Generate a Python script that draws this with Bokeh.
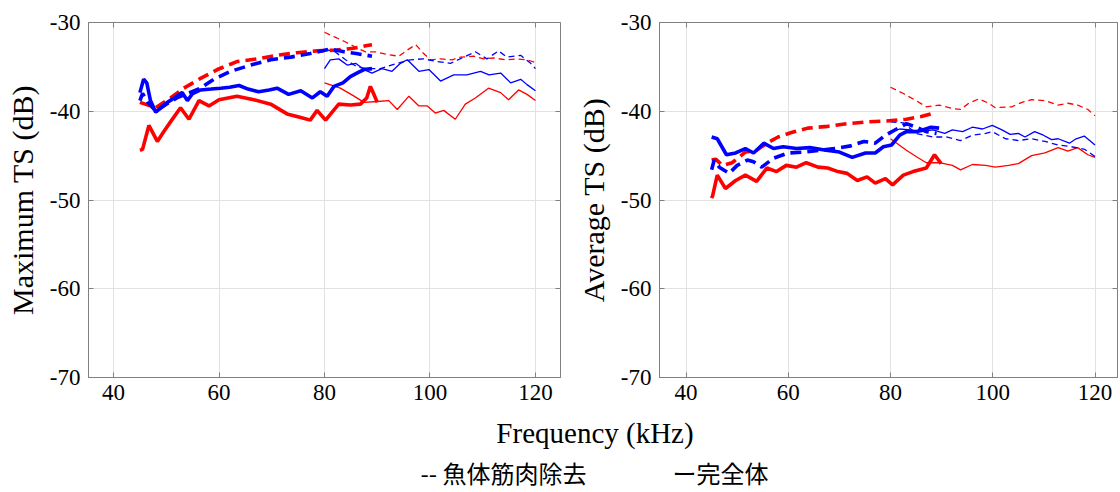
from bokeh.plotting import figure
from bokeh.layouts import column, row
from bokeh.models import FixedTicker, Range1d, LinearAxis
from bokeh.core.properties import value
from bokeh.embed import file_html
from bokeh.resources import INLINE

# ---------------- data ----------------
x_ticks = [40, 60, 80, 100, 120]
x_tick_labels = ["40", "60", "80", "100", "120"]
y_ticks = [-70, -60, -50, -40, -30]
y_tick_labels = ["-70", "-60", "-50", "-40", "-30"]

# Left panel: Maximum TS
max_red_full_f = [45, 45.5, 46.7, 48.3, 49.5, 50.8, 52.7, 54.3, 56.2, 58.1, 60, 63.4, 66.6, 69.8, 72.9, 75.5, 77.3, 78.6, 80.2, 82.7, 84.9, 86.8, 88.0, 88.7, 89.3, 90]
max_red_full_v = [-44.4, -44.3, -41.6, -43.4, -42.3, -41.2, -39.6, -40.9, -38.8, -39.4, -38.7, -38.3, -38.7, -39.2, -40.3, -40.7, -41.0, -39.9, -41.0, -39.2, -39.3, -39.2, -38.5, -37.2, -38.0, -39.0]
max_red_cut_f = [45, 46, 48, 50.8, 53.3, 56.5, 59.7, 63.4, 67.2, 71, 74.8, 78.6, 82.4, 85.5, 88.1, 89]
max_red_cut_v = [-39.0, -39.2, -39.6, -38.5, -37.4, -36.3, -35.3, -34.4, -34.1, -33.7, -33.4, -33.2, -33.1, -32.9, -32.6, -32.5]
max_blue_full_f = [45, 45.7, 46.3, 47, 48, 49, 50.2, 51.5, 53, 54, 55, 56.5, 58.5, 60.3, 62, 63.8, 65.5, 67.5, 69.5, 71, 73.2, 75.5, 77.7, 79.2, 80.5, 81.8, 83.5, 84.9, 86.5, 87.5, 89]
max_blue_full_v = [-37.9, -36.4, -36.8, -38.8, -40.1, -39.6, -39.0, -38.5, -37.9, -38.8, -38.0, -37.6, -37.5, -37.4, -37.3, -37.1, -37.5, -37.8, -37.6, -37.4, -38.1, -37.7, -38.5, -37.8, -38.3, -37.2, -36.8, -36.1, -35.6, -35.3, -35.2]
max_blue_cut_f = [45, 45.5, 46.5, 48, 50, 52, 54, 56.5, 59, 62.2, 66, 69.8, 73.6, 77.3, 81.1, 83.7, 86, 88.1, 89]
max_blue_cut_v = [-38.8, -38.0, -39.0, -40.0, -39.2, -38.5, -38.0, -37.4, -36.4, -35.5, -34.8, -34.2, -33.9, -33.5, -33.0, -33.3, -33.5, -33.7, -33.8]
max_red_full_hi_f = [80, 83, 85.6, 87.5, 90, 92.2, 93.8, 96, 97.9, 99.5, 101, 102.6, 104.8, 106.7, 108.6, 111.1, 113.4, 114.9, 116.8, 118.4, 120]
max_red_full_hi_v = [-36.8, -37.4, -38.3, -39.0, -38.9, -38.8, -39.8, -38.3, -39.4, -39.4, -40.2, -39.9, -40.9, -39.2, -38.5, -37.4, -37.9, -38.7, -37.6, -38.1, -38.8]
max_red_cut_hi_f = [80, 81.8, 84, 85.9, 87.8, 89.7, 91.9, 94.1, 95.7, 97.3, 98.8, 100.1, 102, 104.2, 105.8, 108.3, 110.2, 112.1, 114.3, 116.5, 118.4, 120]
max_red_cut_hi_v = [-31.1, -31.6, -32.2, -32.8, -33.3, -33.3, -33.6, -33.8, -33.1, -32.5, -33.5, -34.2, -34.1, -34.2, -33.9, -33.8, -34.1, -34.0, -34.2, -34.1, -34.2, -34.5]
max_blue_full_hi_f = [80, 81.1, 82.7, 84.3, 85.9, 87.5, 89, 90.9, 92.8, 94.4, 95.7, 97.9, 99.8, 102, 104.5, 107, 109.6, 111.2, 113.4, 115.3, 117.2, 118.4, 120]
max_blue_full_hi_v = [-35.2, -34.2, -34.1, -34.8, -34.6, -35.3, -35.7, -35.2, -35.5, -34.6, -34.2, -35.5, -35.3, -36.6, -35.9, -35.9, -35.5, -35.9, -35.7, -36.8, -36.4, -37.0, -37.7]
max_blue_cut_hi_f = [80, 82, 84, 86.2, 88, 90.6, 93.8, 96.3, 98.8, 101.3, 103.9, 106.4, 108.6, 110.8, 113, 114.6, 117.2, 119.1, 120]
max_blue_cut_hi_v = [-33.0, -33.3, -34.2, -35.0, -35.2, -35.2, -34.6, -34.2, -34.1, -34.4, -34.6, -33.9, -33.3, -34.1, -33.2, -33.9, -33.7, -34.6, -35.2]

# Right panel: Average TS
avg_red_full_f = [45, 45.2, 46.1, 47.7, 49.7, 51.6, 53.8, 55.8, 57.7, 59.6, 61.6, 63.5, 65.8, 67.7, 69.7, 71.5, 73.5, 75.4, 77, 79, 80.4, 82.5, 84.4, 87, 88.6, 89.9]
avg_red_full_v = [-49.8, -49.5, -47.2, -48.7, -47.8, -47.2, -47.9, -46.4, -46.8, -46.1, -46.3, -45.8, -46.3, -46.4, -46.8, -47.0, -47.8, -47.4, -48.1, -47.6, -48.3, -47.2, -46.8, -46.4, -44.9, -45.9]
avg_red_cut_f = [45, 45.8, 47.1, 49, 51.6, 53.8, 55.8, 58, 60.6, 63.8, 67.7, 71.5, 75.4, 79.2, 83.1, 86, 88.5]
avg_red_cut_v = [-45.5, -45.4, -46.1, -45.8, -44.6, -44.4, -43.6, -42.9, -42.4, -41.9, -41.7, -41.4, -41.2, -41.1, -40.9, -40.6, -40.2]
avg_blue_full_f = [45, 46.1, 47.9, 49.7, 51.6, 53.2, 55.2, 57.1, 59, 61.6, 64.2, 67.4, 70, 72.5, 75.1, 77, 78.6, 80.2, 81.8, 83.1, 85, 86.3, 87.9, 89.5]
avg_blue_full_v = [-42.9, -43.1, -44.9, -44.7, -44.2, -44.7, -43.6, -44.2, -44.0, -44.2, -44.1, -44.4, -44.6, -45.2, -44.7, -44.7, -44.0, -43.8, -42.7, -42.3, -42.3, -42.1, -41.8, -41.9]
avg_blue_cut_f = [45, 45.5, 46.5, 48.4, 50, 52, 53.2, 54.8, 57.1, 60, 63, 66.4, 69, 72.2, 74.8, 77, 79, 81.2, 83.1, 85, 87, 89]
avg_blue_cut_v = [-46.6, -45.5, -46.3, -47.0, -46.1, -45.5, -45.7, -46.3, -45.3, -44.7, -44.6, -44.4, -44.2, -43.9, -43.4, -43.6, -42.7, -42.0, -41.4, -41.8, -42.3, -42.5]
avg_red_full_hi_f = [80, 83.1, 85, 87, 89.5, 92.1, 93.7, 96, 98.6, 100.5, 103.1, 105, 107.6, 110.2, 112.8, 114.7, 116.6, 118.6, 120]
avg_red_full_hi_v = [-43.1, -44.4, -45.1, -45.8, -45.8, -46.1, -46.6, -46.0, -46.1, -46.3, -46.1, -45.9, -45.0, -44.7, -44.1, -44.5, -44.1, -44.9, -45.2]
avg_red_cut_hi_f = [80, 82.5, 85, 87, 89.5, 92.1, 93.7, 95.3, 97.3, 99.2, 100.5, 103.7, 105.7, 107.6, 110.2, 112.8, 114.7, 116.6, 118.6, 120]
avg_red_cut_hi_v = [-37.3, -38.0, -38.8, -39.5, -39.3, -39.7, -39.8, -39.1, -38.6, -39.1, -39.6, -39.5, -39.0, -38.7, -38.8, -39.3, -39.1, -39.3, -39.8, -40.5]
avg_blue_full_hi_f = [80, 81.8, 83.8, 86, 88.3, 90.6, 92.1, 94.1, 96, 98, 99.9, 101.8, 103.4, 105, 106.3, 108.2, 109.9, 111.5, 112.8, 115, 116.3, 117.9, 120]
avg_blue_full_hi_v = [-42.3, -42.0, -42.1, -42.3, -42.1, -42.5, -42.1, -42.3, -41.8, -42.0, -41.6, -42.1, -42.6, -42.5, -42.9, -42.3, -42.7, -43.2, -43.1, -43.6, -43.1, -42.8, -43.8]
avg_blue_cut_hi_f = [80, 82.5, 85, 88.3, 90.9, 93.7, 96, 98.6, 99.9, 102.5, 105, 107.6, 110.2, 112.8, 115.4, 118, 120]
avg_blue_cut_hi_v = [-41.2, -41.3, -42.5, -42.9, -42.9, -43.3, -42.7, -42.5, -42.3, -43.1, -43.3, -43.1, -43.4, -43.8, -44.0, -44.3, -45.1]

x_label = "Frequency (kHz)"
legend_cut = "-- 魚体筋肉除去"
legend_full = "ー完全体"

# ---------------- style ----------------
RED = "#ff0000"
BLUE = "#0000ff"
GRAY = "#808080"
SERIF = "Liberation Serif"


def style(p, ylabel):
    p.xaxis.ticker = FixedTicker(ticks=x_ticks)
    p.yaxis.ticker = FixedTicker(ticks=y_ticks)
    p.xaxis.major_label_overrides = dict(zip(x_ticks, x_tick_labels))
    p.yaxis.major_label_overrides = dict(zip(y_ticks, y_tick_labels))
    p.grid.grid_line_color = "#e2e2e2"
    p.grid.grid_line_width = 1
    p.outline_line_color = GRAY
    p.outline_line_width = 1
    p.axis.axis_line_color = GRAY
    p.axis.major_tick_line_color = GRAY
    p.axis.major_tick_in = 5
    p.axis.major_tick_out = 0
    p.axis.minor_tick_line_color = None
    p.axis.major_label_text_font = SERIF
    p.axis.major_label_text_font_size = "23px"
    p.axis.major_label_text_color = "#000000"
    p.xaxis.major_label_standoff = 7
    p.yaxis.major_label_standoff = 8
    p.yaxis.axis_label = ylabel
    p.yaxis.axis_label_text_font = SERIF
    p.yaxis.axis_label_text_font_size = "30px"
    p.yaxis.axis_label_text_font_style = "normal"
    p.yaxis.axis_label_text_color = "#000000"
    p.yaxis.axis_label_standoff = 8
    p.background_fill_color = "white"
    p.border_fill_color = "white"
    # box ticks on the top and right sides (no labels)
    top = LinearAxis(ticker=FixedTicker(ticks=x_ticks), axis_line_color=None,
                     major_tick_line_color=GRAY, major_tick_in=5, major_tick_out=0,
                     minor_tick_line_color=None, major_label_text_color=None,
                     major_label_text_font_size="1px", major_label_standoff=0)
    right = LinearAxis(ticker=FixedTicker(ticks=y_ticks), axis_line_color=None,
                       major_tick_line_color=GRAY, major_tick_in=5, major_tick_out=0,
                       minor_tick_line_color=None, major_label_text_color=None,
                       major_label_text_font_size="1px", major_label_standoff=0)
    p.add_layout(top, "above")
    p.add_layout(right, "right")


def draw(p, series):
    for f, v, color, width, dash in series:
        p.line(f, v, line_color=color, line_width=width, line_dash=dash)


THIN = 1.3
THICK = 3.6
THIN_DASH = "6 4"
THICK_DASH = "11 6"

p1 = figure(width=573, height=412, x_range=Range1d(35.25, 124.75), y_range=Range1d(-70, -30),
            min_border_left=88, min_border_right=13, min_border_top=15, min_border_bottom=35,
            toolbar_location=None, output_backend="svg")
style(p1, "Maximum TS (dB)")
draw(p1, [
    (max_red_full_hi_f, max_red_full_hi_v, RED, THIN, "solid"),
    (max_red_cut_hi_f, max_red_cut_hi_v, RED, THIN, THIN_DASH),
    (max_blue_full_hi_f, max_blue_full_hi_v, BLUE, THIN, "solid"),
    (max_blue_cut_hi_f, max_blue_cut_hi_v, BLUE, THIN, THIN_DASH),
    (max_red_full_f, max_red_full_v, RED, THICK, "solid"),
    (max_red_cut_f, max_red_cut_v, RED, THICK, THICK_DASH),
    (max_blue_full_f, max_blue_full_v, BLUE, THICK, "solid"),
    (max_blue_cut_f, max_blue_cut_v, BLUE, THICK, THICK_DASH),
])

p2 = figure(width=547, height=412, x_range=Range1d(34.8, 124.4), y_range=Range1d(-70, -30),
            min_border_left=80, min_border_right=3, min_border_top=22, min_border_bottom=34,
            toolbar_location=None, output_backend="svg")
style(p2, "Average TS (dB)")
draw(p2, [
    (avg_red_full_hi_f, avg_red_full_hi_v, RED, THIN, "solid"),
    (avg_red_cut_hi_f, avg_red_cut_hi_v, RED, THIN, THIN_DASH),
    (avg_blue_full_hi_f, avg_blue_full_hi_v, BLUE, THIN, "solid"),
    (avg_blue_cut_hi_f, avg_blue_cut_hi_v, BLUE, THIN, THIN_DASH),
    (avg_red_full_f, avg_red_full_v, RED, THICK, "solid"),
    (avg_red_cut_f, avg_red_cut_v, RED, THICK, THICK_DASH),
    (avg_blue_full_f, avg_blue_full_v, BLUE, THICK, "solid"),
    (avg_blue_cut_f, avg_blue_cut_v, BLUE, THICK, THICK_DASH),
])

# bottom strip: shared x label and legend text
p3 = figure(width=1120, height=80, x_range=Range1d(0, 1120), y_range=Range1d(80, 0),
            min_border=0, toolbar_location=None, output_backend="svg",
            x_axis_location=None, y_axis_location=None)
p3.grid.visible = False
p3.outline_line_color = None
p3.text(x=[594.5], y=[20], text=[x_label], text_font=value(SERIF), text_font_size="29px",
        text_align="center", text_baseline="middle", text_color="#000000")
p3.text(x=[420, 672], y=[60, 60], text=[legend_cut, legend_full],
        text_font=value("Noto Sans CJK JP"), text_font_size="24px",
        text_align="left", text_baseline="middle", text_color="#000000")

layout = column(row(p1, p2), p3)
open("out.html", "w").write(file_html(layout, INLINE))
